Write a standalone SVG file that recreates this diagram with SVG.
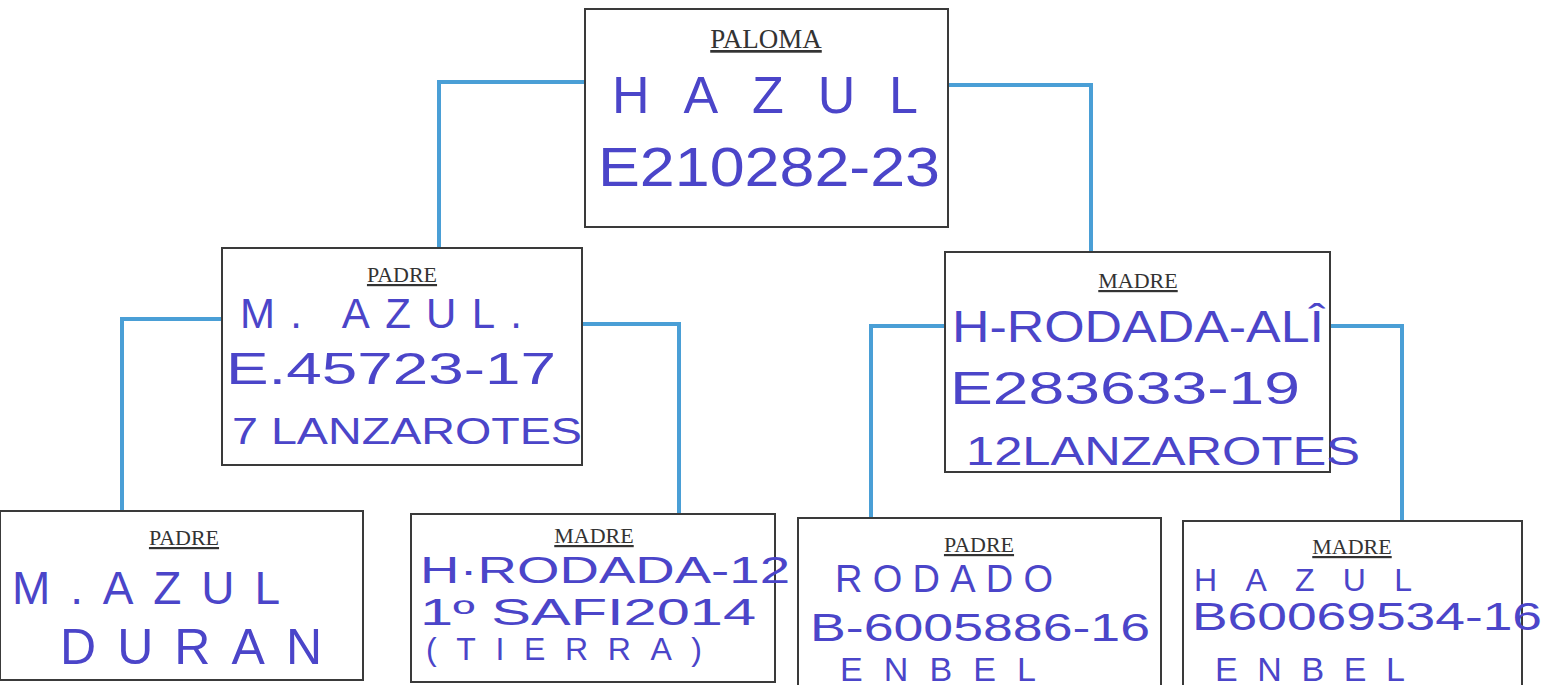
<svg xmlns="http://www.w3.org/2000/svg" width="1542" height="685" viewBox="0 0 1542 685">
<style>
.box{fill:#fff;stroke:#3a3a3a;stroke-width:2}
.conn{fill:none;stroke:#4a9fd6;stroke-width:4}
.lbl{font-family:"Liberation Serif",serif;fill:#333;text-anchor:middle;text-decoration:underline}
.hw{font-family:"Liberation Sans",sans-serif;fill:#4b45c9;font-weight:normal}
</style>
<rect width="1542" height="685" fill="#fff"/>
<g id="connectors">
<path class="conn" d="M585 82 H439 V247"/>
<path class="conn" d="M948 85 H1091 V252"/>
<path class="conn" d="M222 319 H122 V511"/>
<path class="conn" d="M582 324 H679 V514"/>
<path class="conn" d="M945 326 H871 V518"/>
<path class="conn" d="M1330 326 H1402 V521"/>
</g>
<g id="paloma">
<rect class="box" x="585" y="9" width="363" height="218"/>
<text class="lbl" x="766" y="48" font-size="27">PALOMA</text>
<text class="hw" x="612" y="113" font-size="52" textLength="306" lengthAdjust="spacing">HAZUL</text>
<text class="hw" x="598" y="186" font-size="56" textLength="342" lengthAdjust="spacingAndGlyphs">E210282-23</text>
</g>
<g id="padre">
<rect class="box" x="222" y="248" width="360" height="217"/>
<text class="lbl" x="402" y="282" font-size="22">PADRE</text>
<text class="hw" x="240" y="328" font-size="42" textLength="282" lengthAdjust="spacing">M. AZUL.</text>
<text class="hw" x="226" y="384" font-size="44" textLength="330" lengthAdjust="spacingAndGlyphs">E.45723-17</text>
<text class="hw" x="232" y="444" font-size="36" textLength="350" lengthAdjust="spacingAndGlyphs">7 LANZAROTES</text>
</g>
<g id="madre">
<rect class="box" x="945" y="252" width="385" height="220"/>
<text class="lbl" x="1138" y="288" font-size="22">MADRE</text>
<text class="hw" x="952" y="342" font-size="44" textLength="372" lengthAdjust="spacingAndGlyphs">H-RODADA-ALÎ</text>
<text class="hw" x="950" y="404" font-size="46" textLength="350" lengthAdjust="spacingAndGlyphs">E283633-19</text>
<text class="hw" x="966" y="465" font-size="40" textLength="394" lengthAdjust="spacingAndGlyphs">12LANZAROTES</text>
</g>
<g id="abuelo-paterno">
<rect class="box" x="0" y="511" width="363" height="169"/>
<text class="lbl" x="184" y="545" font-size="22">PADRE</text>
<text class="hw" x="12" y="604" font-size="46" textLength="268" lengthAdjust="spacing">M.AZUL</text>
<text class="hw" x="60" y="664" font-size="50" textLength="262" lengthAdjust="spacing">DURAN</text>
</g>
<g id="abuela-paterna">
<rect class="box" x="411" y="514" width="364" height="168"/>
<text class="lbl" x="594" y="543" font-size="22">MADRE</text>
<text class="hw" x="420" y="583" font-size="36" textLength="370" lengthAdjust="spacingAndGlyphs">H·RODADA-12</text>
<text class="hw" x="420" y="625" font-size="36" textLength="336" lengthAdjust="spacingAndGlyphs">1º SAFI2014</text>
<text class="hw" x="426" y="660" font-size="32" textLength="276" lengthAdjust="spacing">(TIERRA)</text>
</g>
<g id="abuelo-materno">
<rect class="box" x="798" y="518" width="363" height="170"/>
<text class="lbl" x="979" y="552" font-size="22">PADRE</text>
<text class="hw" x="835" y="592" font-size="38" textLength="218" lengthAdjust="spacing">RODADO</text>
<text class="hw" x="810" y="641" font-size="38" textLength="340" lengthAdjust="spacingAndGlyphs">B-6005886-16</text>
<text class="hw" x="840" y="681" font-size="34" textLength="196" lengthAdjust="spacing">ENBEL</text>
</g>
<g id="abuela-materna">
<rect class="box" x="1183" y="521" width="339" height="168"/>
<text class="lbl" x="1352" y="554" font-size="22">MADRE</text>
<text class="hw" x="1194" y="591" font-size="32" textLength="218" lengthAdjust="spacing">HAZUL</text>
<text class="hw" x="1192" y="630" font-size="38" textLength="350" lengthAdjust="spacingAndGlyphs">B60069534-16</text>
<text class="hw" x="1215" y="681" font-size="34" textLength="190" lengthAdjust="spacing">ENBEL</text>
</g>
</svg>
